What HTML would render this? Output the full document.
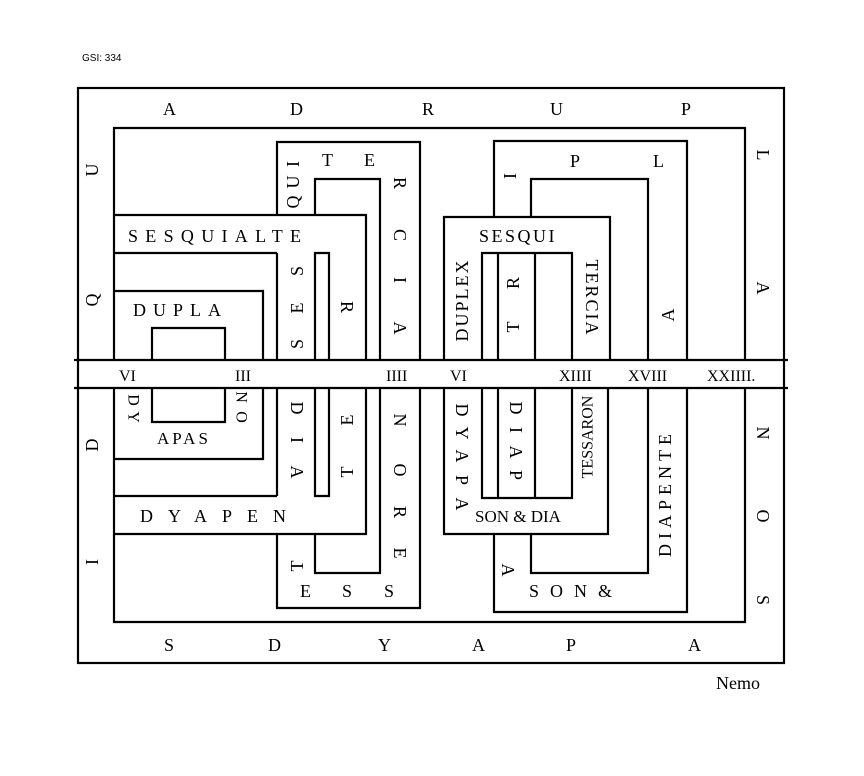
<!DOCTYPE html>
<html><head><meta charset="utf-8"><style>
html,body{margin:0;padding:0;background:#fff;}
svg{display:block;}
text{font-family:"Liberation Serif",serif;fill:#000;}
.l{font-size:18px;}
.v{font-size:18px;text-anchor:middle;dominant-baseline:central;}
</style></head><body>
<svg width="864" height="776" viewBox="0 0 864 776" xmlns="http://www.w3.org/2000/svg">
<text x="82" y="61" style="font-family:'Liberation Sans',sans-serif;font-size:10px">GSI: 334</text>
<g fill="none" stroke="#000" stroke-width="2.2">
<!-- outer frame -->
<rect x="78" y="88" width="706" height="575"/>
<line x1="74" y1="360" x2="788" y2="360"/>
<line x1="74" y1="388" x2="788" y2="388"/>
<!-- level 2 -->
<polyline points="114,360 114,128 745,128 745,360"/>
<polyline points="114,388 114,622 745,622 745,388"/>
<!-- top-left -->
<polyline points="277,215 277,142 420,142 420,360"/>
<polyline points="315,215 315,179 380,179 380,360"/>
<polyline points="114,215 366,215 366,360"/>
<line x1="114" y1="253" x2="277" y2="253"/>
<line x1="277" y1="253" x2="277" y2="360"/>
<polyline points="315,360 315,253 329,253 329,360"/>
<polyline points="114,291 263,291 263,360"/>
<polyline points="152,360 152,328 225,328 225,360"/>
<!-- top-right -->
<polyline points="494,217 494,141 687,141 687,360"/>
<polyline points="531,217 531,179 648,179 648,360"/>
<polyline points="444,360 444,217 610,217 610,360"/>
<polyline points="482,360 482,253 572,253 572,360"/>
<line x1="498" y1="253" x2="498" y2="360"/>
<line x1="535" y1="253" x2="535" y2="360"/>
<!-- bottom-left -->
<polyline points="114,459 263,459 263,388"/>
<polyline points="152,388 152,422 225,422 225,388"/>
<line x1="114" y1="496" x2="277" y2="496"/>
<line x1="277" y1="388" x2="277" y2="496"/>
<polyline points="315,388 315,496 329,496 329,388"/>
<polyline points="114,534 366,534 366,388"/>
<polyline points="277,534 277,608 420,608 420,388"/>
<polyline points="315,534 315,573 380,573 380,388"/>
<!-- bottom-right -->
<polyline points="444,388 444,534 608,534 608,388"/>
<polyline points="482,388 482,498 572,498 572,388"/>
<line x1="498" y1="388" x2="498" y2="498"/>
<line x1="535" y1="388" x2="535" y2="498"/>
<polyline points="494,534 494,612 687,612 687,388"/>
<polyline points="531,534 531,573 648,573 648,388"/>
</g>
<!-- top row -->
<text class="l" x="163" y="115">A</text>
<text class="l" x="290" y="115">D</text>
<text class="l" x="422" y="115">R</text>
<text class="l" x="550" y="115">U</text>
<text class="l" x="681" y="115">P</text>
<text class="v" transform="translate(92,170) rotate(-90)">U</text>
<text class="v" transform="translate(92,300) rotate(-90)">Q</text>
<text class="v" transform="translate(763,155) rotate(90)">L</text>
<text class="v" transform="translate(763,288) rotate(90)">A</text>
<!-- top-left inner -->
<text class="l" x="322" y="166">T</text>
<text class="l" x="364" y="166">E</text>
<text class="v" transform="translate(293,164) rotate(-90)">I</text>
<text class="v" transform="translate(293,182) rotate(-90)">U</text>
<text class="v" transform="translate(293,202) rotate(-90)">Q</text>
<text class="v" transform="translate(400,183) rotate(90)">R</text>
<text class="v" transform="translate(400,235) rotate(90)">C</text>
<text class="v" transform="translate(400,280) rotate(90)">I</text>
<text class="v" transform="translate(400,328) rotate(90)">A</text>
<text class="l" x="128" y="242" style="letter-spacing:7.3px">SESQUIALTE</text>
<text class="l" x="133" y="316" style="letter-spacing:7px">DUPLA</text>
<text class="v" transform="translate(297,271) rotate(-90)">S</text>
<text class="v" transform="translate(297,308) rotate(-90)">E</text>
<text class="v" transform="translate(297,344) rotate(-90)">S</text>
<text class="v" transform="translate(347,307) rotate(90)">R</text>
<!-- top-right inner -->
<text class="v" transform="translate(510,176) rotate(-90)">I</text>
<text class="l" x="570" y="167">P</text>
<text class="l" x="653" y="167">L</text>
<text class="v" transform="translate(668,315) rotate(-90)">A</text>
<text class="l" x="479" y="242" style="letter-spacing:2.5px">SESQUI</text>
<text class="v" transform="translate(462,300) rotate(-90)" style="letter-spacing:2px">DUPLEX</text>
<text class="v" transform="translate(513,283) rotate(-90)">R</text>
<text class="v" transform="translate(513,327) rotate(-90)">T</text>
<text class="v" transform="translate(592,298) rotate(90)" style="letter-spacing:2px">TERCIA</text>
<!-- band -->
<text class="l" x="119" y="381" style="font-size:16px">VI</text>
<text class="l" x="235" y="381" style="font-size:16px">III</text>
<text class="l" x="386" y="381" style="font-size:16px">IIII</text>
<text class="l" x="450" y="381" style="font-size:16px">VI</text>
<text class="l" x="559" y="381" style="font-size:16px">XIIII</text>
<text class="l" x="628" y="381" style="font-size:16px">XVIII</text>
<text class="l" x="707" y="381" style="font-size:16px">XXIIII.</text>
<!-- bottom-left inner -->
<text class="v" transform="translate(133,400) rotate(90)" style="font-size:16px">D</text>
<text class="v" transform="translate(133,417) rotate(90)" style="font-size:16px">Y</text>
<text class="v" transform="translate(241,397) rotate(90)" style="font-size:16px">N</text>
<text class="v" transform="translate(241,417) rotate(90)" style="font-size:16px">O</text>
<text class="l" x="157" y="444" style="letter-spacing:3px;font-size:17px">APAS</text>
<text class="v" transform="translate(297,408) rotate(90)">D</text>
<text class="v" transform="translate(297,440) rotate(90)">I</text>
<text class="v" transform="translate(297,472) rotate(90)">A</text>
<text class="v" transform="translate(347,420) rotate(-90)">E</text>
<text class="v" transform="translate(347,472) rotate(-90)">T</text>
<text class="v" transform="translate(400,420) rotate(90)">N</text>
<text class="v" transform="translate(400,470) rotate(90)">O</text>
<text class="v" transform="translate(400,512) rotate(90)">R</text>
<text class="v" transform="translate(400,553) rotate(90)">E</text>
<text class="l" x="140" y="522" style="letter-spacing:15px">DYAPEN</text>
<text class="v" transform="translate(297,566) rotate(-90)">T</text>
<text class="l" x="300" y="597">E</text>
<text class="l" x="342" y="597">S</text>
<text class="l" x="384" y="597">S</text>
<text class="v" transform="translate(92,445) rotate(-90)">D</text>
<text class="v" transform="translate(92,562) rotate(-90)">I</text>
<!-- bottom-right inner -->
<text class="v" transform="translate(462,410) rotate(90)">D</text>
<text class="v" transform="translate(462,433) rotate(90)">Y</text>
<text class="v" transform="translate(462,456) rotate(90)">A</text>
<text class="v" transform="translate(462,480) rotate(90)">P</text>
<text class="v" transform="translate(462,504) rotate(90)">A</text>
<text class="v" transform="translate(516,408) rotate(90)">D</text>
<text class="v" transform="translate(516,430) rotate(90)">I</text>
<text class="v" transform="translate(516,452) rotate(90)">A</text>
<text class="v" transform="translate(516,475) rotate(90)">P</text>
<text class="v" transform="translate(588,437) rotate(-90)" style="font-size:16px">TESSARON</text>
<text class="l" x="475" y="522" style="font-size:17px">SON &amp; DIA</text>
<text class="v" transform="translate(508,570) rotate(90)">A</text>
<text class="l" x="529" y="597" style="letter-spacing:11px">SON&amp;</text>
<text class="v" transform="translate(665,493) rotate(-90)" style="letter-spacing:5px">DIAPENTE</text>
<text class="v" transform="translate(763,433) rotate(90)">N</text>
<text class="v" transform="translate(763,516) rotate(90)">O</text>
<text class="v" transform="translate(763,600) rotate(90)">S</text>
<!-- bottom row -->
<text class="l" x="164" y="651">S</text>
<text class="l" x="268" y="651">D</text>
<text class="l" x="378" y="651">Y</text>
<text class="l" x="472" y="651">A</text>
<text class="l" x="566" y="651">P</text>
<text class="l" x="688" y="651">A</text>
<text class="l" x="716" y="689">Nemo</text>
</svg>
</body></html>
